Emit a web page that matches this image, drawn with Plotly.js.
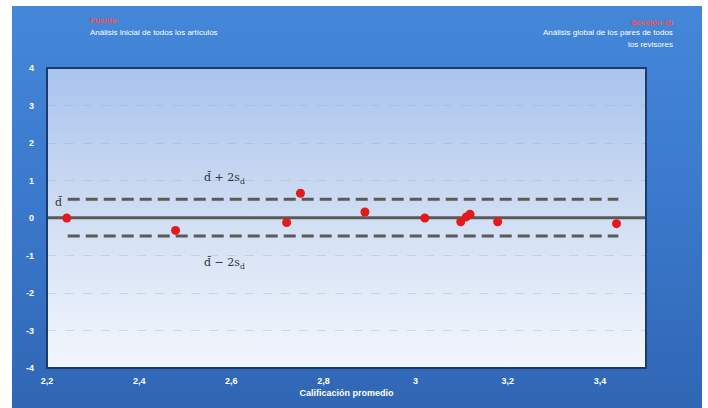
<!DOCTYPE html>
<html>
<head>
<meta charset="utf-8">
<script src="https://cdn.plot.ly/plotly-3.0.1.min.js"></script>
<style>html,body{margin:0;padding:0;background:#fff;}#chart{width:708px;height:408px;}</style>
</head>
<body>
<div id="chart"></div>
<script>
// Data
var promedio = [2.243, 2.479, 2.72, 2.75, 2.89, 3.02, 3.098, 3.11, 3.118, 3.178, 3.436];
var diferencia = [0.0, -0.33, -0.12, 0.66, 0.16, 0.0, -0.1, 0.03, 0.1, -0.1, -0.15];
var dMedia = 0.01;
var limSup = 0.5;
var limInf = -0.48;
var xTicks = [2.2, 2.4, 2.6, 2.8, 3.0, 3.2, 3.4];
var xTickText = ["2,2", "2,4", "2,6", "2,8", "3", "3,2", "3,4"];
var yTicks = [4, 3, 2, 1, 0, -1, -2, -3, -4];
var yTickText = ["4", "3", "2", "1", "0", "-1", "-2", "-3", "-4"];
var xRange = [2.2, 3.5];
var yRange = [-4, 4];
var limX = [2.245, 3.44];

var frameSvg = 'data:image/svg+xml;utf8,' + encodeURIComponent(
  '<svg xmlns="http://www.w3.org/2000/svg" width="100" height="100" preserveAspectRatio="none">' +
  '<defs><linearGradient id="g" x1="0" y1="0" x2="0" y2="1">' +
  '<stop offset="0" stop-color="#4487d8"/><stop offset="0.5" stop-color="#3a78cb"/><stop offset="1" stop-color="#3066b4"/>' +
  '</linearGradient></defs><rect width="100" height="100" fill="url(#g)"/></svg>');
var plotSvg = 'data:image/svg+xml;utf8,' + encodeURIComponent(
  '<svg xmlns="http://www.w3.org/2000/svg" width="100" height="100" preserveAspectRatio="none">' +
  '<defs><linearGradient id="h" x1="0" y1="0" x2="0" y2="1">' +
  '<stop offset="0" stop-color="#a9c3ec"/><stop offset="0.5" stop-color="#d1def3"/><stop offset="1" stop-color="#f3f7fd"/>' +
  '</linearGradient></defs><rect width="100" height="100" fill="url(#h)"/></svg>');

var traces = [
  {
    x: xRange, y: [dMedia, dMedia], mode: 'lines', hoverinfo: 'skip',
    line: {color: '#5a5a5a', width: 3}, showlegend: false
  },
  {
    x: limX, y: [limSup, limSup], mode: 'lines', hoverinfo: 'skip',
    line: {color: '#5a5a5a', width: 3, dash: '12px,6px'}, showlegend: false
  },
  {
    x: limX, y: [limInf, limInf], mode: 'lines', hoverinfo: 'skip',
    line: {color: '#5a5a5a', width: 3, dash: '12px,6px'}, showlegend: false
  },
  {
    x: promedio, y: diferencia, mode: 'markers', showlegend: false,
    marker: {color: '#e4191c', size: 9}
  }
];

var layout = {
  width: 708, height: 408,
  margin: {l: 47, r: 62, t: 68, b: 40},
  paper_bgcolor: '#ffffff',
  plot_bgcolor: 'rgba(0,0,0,0)',
  showlegend: false,
  xaxis: {
    range: xRange, tickvals: xTicks, ticktext: xTickText,
    showgrid: false, zeroline: false, showline: false, ticks: '',
    ticklabelstandoff: 6,
    tickfont: {family: 'Liberation Sans, Arial, sans-serif', size: 9, color: '#ffffff', weight: 'bold'},
    title: {text: 'Calificación promedio', standoff: 4,
      font: {family: 'Liberation Sans, Arial, sans-serif', size: 9, color: '#ffffff', weight: 'bold'}}
  },
  yaxis: {
    range: yRange, tickvals: yTicks, ticktext: yTickText,
    showgrid: true, gridcolor: 'rgba(150,170,205,0.35)', griddash: 'dash', gridwidth: 1,
    zeroline: false, showline: false, ticks: '',
    ticklabelstandoff: 12,
    tickfont: {family: 'Liberation Sans, Arial, sans-serif', size: 9, color: '#ffffff', weight: 'bold'}
  },
  images: [
    {source: frameSvg, xref: 'paper', yref: 'paper', x: -0.0584, y: 1.2067,
     sizex: 1.1519, sizey: 1.34, xanchor: 'left', yanchor: 'top', sizing: 'stretch', layer: 'below'},
    {source: plotSvg, xref: 'paper', yref: 'paper', x: 0, y: 1,
     sizex: 1, sizey: 1, xanchor: 'left', yanchor: 'top', sizing: 'stretch', layer: 'below'}
  ],
  shapes: [
    {type: 'rect', xref: 'paper', yref: 'paper', x0: 0, x1: 1, y0: 0, y1: 1,
     line: {color: '#1d3a6a', width: 2}, fillcolor: 'rgba(0,0,0,0)'}
  ],
  annotations: [
    {xref: 'paper', yref: 'paper', x: 0.068, y: 1.16, xanchor: 'left', yanchor: 'middle', showarrow: false,
     text: 'Fuente:', font: {family: 'Liberation Sans, Arial, sans-serif', size: 8, color: '#ff4a4a', weight: 'bold'}},
    {xref: 'paper', yref: 'paper', x: 0.068, y: 1.117, xanchor: 'left', yanchor: 'middle', showarrow: false,
     text: 'Análisis inicial de todos los artículos', font: {family: 'Liberation Sans, Arial, sans-serif', size: 8, color: '#ffffff'}},
    {xref: 'paper', yref: 'paper', x: 1.048, y: 1.153, xanchor: 'right', yanchor: 'middle', showarrow: false,
     text: 'Sección 2b', font: {family: 'Liberation Sans, Arial, sans-serif', size: 8, color: '#ff4a4a', weight: 'bold'}},
    {xref: 'paper', yref: 'paper', x: 1.048, y: 1.117, xanchor: 'right', yanchor: 'middle', showarrow: false,
     text: 'Análisis global de los pares de todos', font: {family: 'Liberation Sans, Arial, sans-serif', size: 8, color: '#ffffff'}},
    {xref: 'paper', yref: 'paper', x: 1.048, y: 1.077, xanchor: 'right', yanchor: 'middle', showarrow: false,
     text: 'los revisores', font: {family: 'Liberation Sans, Arial, sans-serif', size: 8, color: '#ffffff'}},
    {xref: 'x', yref: 'y', x: 2.585, y: 1.05, showarrow: false,
     text: 'd̄ + 2s<sub>d</sub>', font: {family: 'DejaVu Serif, serif', size: 11, color: '#333333'}},
    {xref: 'x', yref: 'y', x: 2.585, y: -1.22, showarrow: false,
     text: 'd̄ − 2s<sub>d</sub>', font: {family: 'DejaVu Serif, serif', size: 11, color: '#333333'}},
    {xref: 'x', yref: 'y', x: 2.225, y: 0.42, showarrow: false,
     text: 'd̄', font: {family: 'DejaVu Serif, serif', size: 11, color: '#333333'}}
  ]
};

Plotly.newPlot('chart', traces, layout, {displayModeBar: false, staticPlot: true});
</script>
</body>
</html>
